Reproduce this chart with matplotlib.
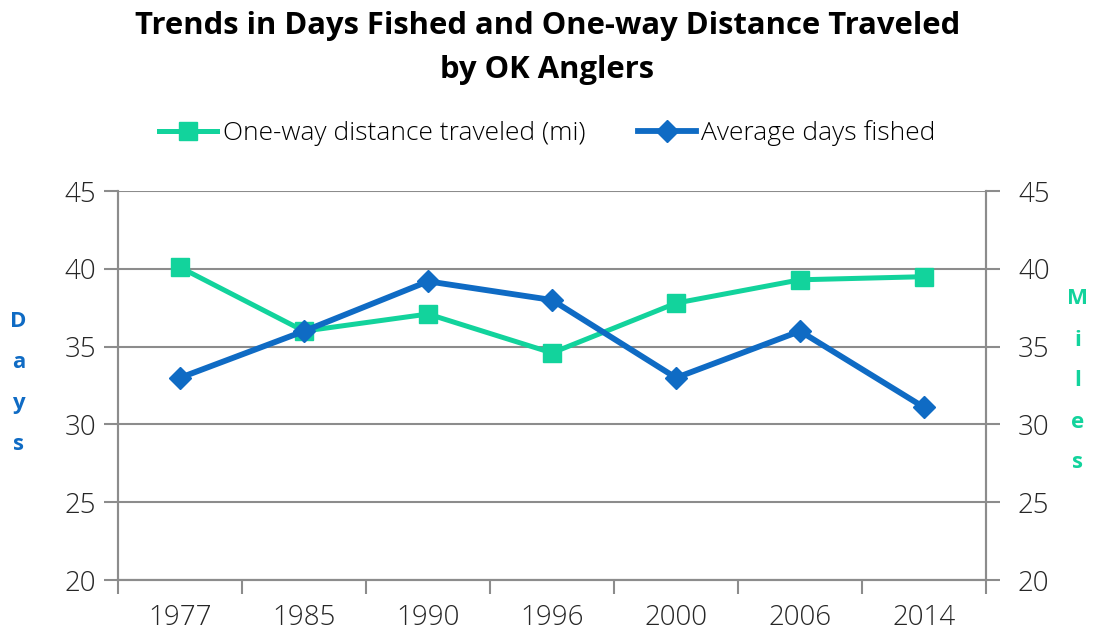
import matplotlib.pyplot as plt

plt.rcParams['font.family'] = ['Open Sans', 'DejaVu Sans']

# data
years = ["1977", "1985", "1990", "1996", "2000", "2006", "2014"]
distance_mi = [40.1, 36.0, 37.1, 34.6, 37.8, 39.3, 39.5]
days_fished = [33.0, 36.0, 39.2, 38.0, 33.0, 36.0, 31.1]
y_ticks = [20, 25, 30, 35, 40, 45]

green = "#12D39C"
blue = "#0F6BC4"
grid_gray = "#8C8C8C"
text_col = "#262626"

fig = plt.figure(figsize=(10.95, 6.35), dpi=100)
ax = fig.add_axes([0.1078, 0.0866, 0.7927, 0.6124])
ax2 = ax.twinx()

x = list(range(len(years)))
ax.plot(x, distance_mi, color=green, lw=3.6, marker="s", ms=13,
        label="One-way distance traveled (mi)", zorder=3)
ax.plot(x, days_fished, color=blue, lw=4.2, marker="D", ms=11,
        label="Average days fished", zorder=4)

for a in (ax, ax2):
    a.set_ylim(20, 45)
    a.set_yticks(y_ticks)
    a.set_xlim(-0.5, len(years) - 0.5)
    for s in a.spines.values():
        s.set_color(grid_gray)
        s.set_linewidth(1.5)
    a.spines["top"].set_visible(False)
    a.tick_params(axis="y", length=10, width=1.5, color=grid_gray,
                  labelsize=20, labelcolor=text_col)
    for lbl in a.get_yticklabels():
        lbl.set_fontweight("light")
ax.tick_params(axis="y", pad=6)
ax2.tick_params(axis="y", pad=13)

ax.yaxis.grid(True, color=grid_gray, lw=1.5)
ax.set_axisbelow(True)

# category boundaries as major ticks, labels on minor ticks at centres
ax.set_xticks([i - 0.5 for i in range(len(years) + 1)])
ax.set_xticklabels([])
ax.set_xticks(x, minor=True)
ax.set_xticklabels(years, minor=True, fontweight="light")
ax.tick_params(axis="x", which="major", length=10, width=1.5, color=grid_gray)
ax.tick_params(axis="x", which="minor", length=0, labelsize=20,
               labelcolor=text_col, pad=17)

fig.text(0.5, 0.982, "Trends in Days Fished and One-way Distance Traveled\nby OK Anglers",
         ha="center", va="top", fontsize=22.3, fontweight="bold", linespacing=1.6)

fig.text(0.017, 0.397, "D\na\ny\ns", ha="center", va="center",
         fontsize=16, fontweight="bold", color=blue, linespacing=2.25)
fig.text(0.984, 0.40, "M\ni\nl\ne\ns", ha="center", va="center",
         fontsize=16, fontweight="bold", color=green, linespacing=2.25)

fig.legend(loc="center", bbox_to_anchor=(0.5, 0.79), ncol=2, frameon=False,
           prop={"size": 19, "weight": "light"}, handlelength=2.2,
           columnspacing=2.0, handletextpad=0.2)

fig.savefig("out.png", dpi=100)
